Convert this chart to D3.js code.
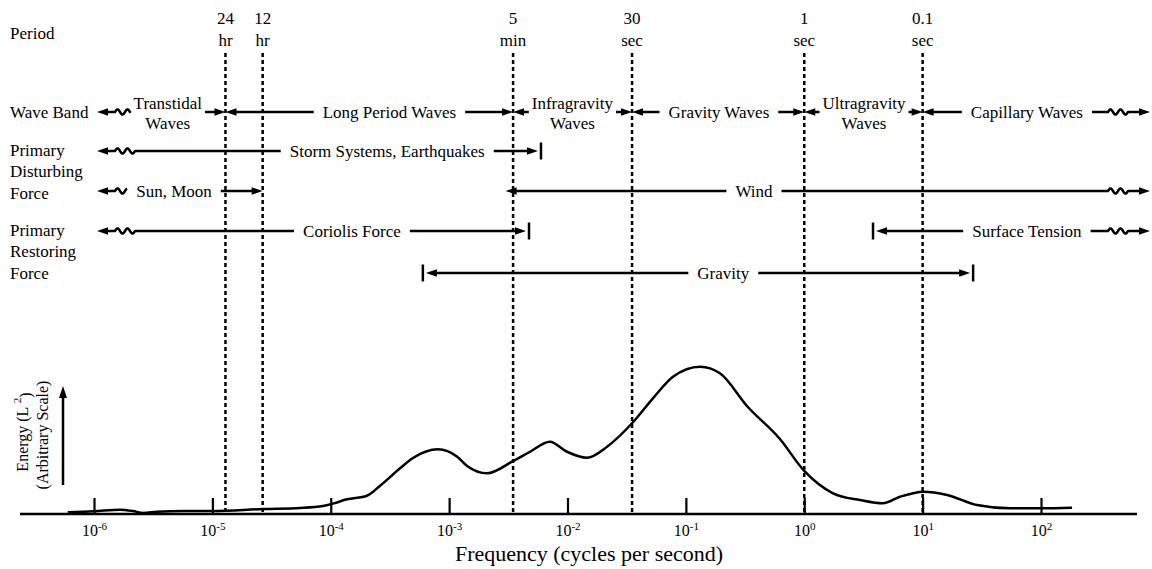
<!DOCTYPE html>
<html>
<head>
<meta charset="utf-8">
<script src="https://cdn.jsdelivr.net/npm/d3@7"></script>
<style>
  body { margin: 0; background: #fff; }
  svg { display: block; font-family: "Liberation Serif", "Times New Roman", serif; }
</style>
</head>
<body>
<svg id="chart" width="1152" height="569"></svg>
<script>
// ---- Period markers (dashed verticals) ----
const periodNames = [["24", "hr"], ["12", "hr"], ["5", "min"], ["30", "sec"], ["1", "sec"], ["0.1", "sec"]];
const periodFreqs = [1.29e-5, 2.66e-5, 3.47e-3, 3.51e-2, 1, 10];

// ---- Energy spectrum (frequency in Hz, energy in arbitrary units) ----
const specFreq = [6.0e-7, 1e-6, 1.66e-6, 2.13e-6, 2.6e-6, 3.4e-6, 5.65e-6, 1e-5, 2.67e-5, 5.5e-5,
  8.6e-5, 1.06e-4, 1.37e-4, 2.02e-4, 2.6e-4, 3.85e-4, 4.95e-4, 8.05e-4, 1.17e-3, 1.42e-3,
  2.09e-3, 3.47e-3, 4.83e-3, 7.1e-3, 9.9e-3, 1.46e-2, 2.16e-2, 3.51e-2, 5.27e-2, 7.78e-2,
  0.132, 0.194, 0.328, 0.623, 1.0, 1.75, 2.96, 4.62, 6.44, 10.2, 16.1, 28.8, 54.7, 100, 183];
const specEnergy = [1.1, 1.8, 2.9, 2.0, 0.7, 1.5, 2.0, 2.0, 3.3, 4.0,
  5.3, 7.1, 9.8, 12.2, 18.7, 30.5, 37.3, 43.1, 38.2, 32.0,
  27.1, 35.3, 41.5, 48.2, 41.5, 37.5, 44.9, 60.5, 77.1, 91.5,
  98.2, 93.8, 72.0, 50.0, 28.7, 13.8, 9.3, 7.1, 11.5, 14.9, 12.7, 6.0, 3.8, 3.8, 4.2];

// ---- Axis ticks ----
const tickFreqs = [1e-6, 1e-5, 1e-4, 1e-3, 1e-2, 1e-1, 1e0, 1e1, 1e2];
const tickExps = ["-6", "-5", "-4", "-3", "-2", "-1", "0", "1", "2"];

// ---- Band rows: lo/hi are frequency limits (null = open-ended), at = label anchor ----
const waveBandRow = [
  { label: ["Transtidal", "Waves"], lo: null, hi: 1.29e-5, at: 4.2e-6 },
  { label: ["Long Period Waves"], lo: 1.29e-5, hi: 3.47e-3, at: 3.13e-4 },
  { label: ["Infragravity", "Waves"], lo: 3.47e-3, hi: 3.51e-2, at: 1.1e-2 },
  { label: ["Gravity Waves"], lo: 3.51e-2, hi: 1, at: 0.19 },
  { label: ["Ultragravity", "Waves"], lo: 1, hi: 10, at: 3.2 },
  { label: ["Capillary Waves"], lo: 10, hi: null, at: 76 }
];
const stormRow = [
  { label: ["Storm Systems, Earthquakes"], lo: null, hi: 5.97e-3, at: 3.0e-4, hiEnd: "bar" }
];
const tideWindRow = [
  { label: ["Sun, Moon"], lo: null, hi: 2.66e-5, at: 4.74e-6 },
  { label: ["Wind"], lo: 3.0e-3, hi: null, at: 0.376 }
];
const coriolisRow = [
  { label: ["Coriolis Force"], lo: null, hi: 4.73e-3, at: 1.51e-4, hiEnd: "bar" },
  { label: ["Surface Tension"], lo: 3.81, hi: null, at: 76, loEnd: "bar" }
];
const gravityRow = [
  { label: ["Gravity"], lo: 6.0e-4, hi: 26.7, at: 0.207, loEnd: "bar", hiEnd: "bar" }
];

const rowTitles = [
  { lines: ["Period"], y: 33 },
  { lines: ["Wave Band"], y: 112 },
  { lines: ["Primary", "Disturbing", "Force"], y: 150 },
  { lines: ["Primary", "Restoring", "Force"], y: 230 }
];

// ---- Layout ----
const svg = d3.select("#chart");
const baseY = 514;
const x = d3.scaleLog().domain([1e-6, 1e2]).range([94, 1041]);
const y = d3.scaleLinear().domain([0, 100]).range([baseY, 364]);
const openLeft = 97, openRight = 1150;
const rowY = [112, 151, 191, 231, 273];
const rows = [waveBandRow, stormRow, tideWindRow, coriolisRow, gravityRow];
const LW = 2.5;

// Dashed period lines and their labels
const pg = svg.append("g");
periodFreqs.forEach((f, i) => {
  pg.append("line")
    .attr("x1", x(f)).attr("x2", x(f))
    .attr("y1", 53).attr("y2", baseY)
    .attr("stroke", "#000").attr("stroke-width", 2.5)
    .attr("stroke-dasharray", "4,3");
  pg.append("text").attr("x", x(f)).attr("y", 18).attr("dy", "0.35em")
    .attr("text-anchor", "middle").attr("font-size", 17).text(periodNames[i][0]);
  pg.append("text").attr("x", x(f)).attr("y", 40).attr("dy", "0.35em")
    .attr("text-anchor", "middle").attr("font-size", 17).text(periodNames[i][1]);
});

// Row titles on the left
rowTitles.forEach(t => {
  t.lines.forEach((s, j) => {
    svg.append("text").attr("x", 10).attr("y", t.y + j * 21.5).attr("dy", "0.35em")
      .attr("font-size", 17).text(s);
  });
});

// Drawing helpers
function arrowHead(g, tip, yy, dir) {
  // dir = -1 points left, +1 points right
  g.append("path")
    .attr("d", `M${tip},${yy} L${tip - dir * 11},${yy - 3.8} L${tip - dir * 11},${yy + 3.8} Z`)
    .attr("fill", "#000");
}
function bar(g, xx, yy) {
  g.append("line").attr("x1", xx).attr("x2", xx).attr("y1", yy - 8.5).attr("y2", yy + 8.5)
    .attr("stroke", "#000").attr("stroke-width", LW);
}
function wavePts(xs, xe, yy) {
  const pts = [];
  for (let t = xs; t <= xe; t += 0.5) {
    pts.push([t, yy - 2.6 * Math.sin(2 * Math.PI * (t - xs) / 10)]);
  }
  return pts;
}
const lineGen = d3.line();
function stroke(g, pts) {
  g.append("path").attr("d", lineGen(pts)).attr("fill", "none")
    .attr("stroke", "#000").attr("stroke-width", LW).attr("stroke-linejoin", "round");
}

// Left piece: from band start to just before the label
function leftPiece(g, band, xe, yy) {
  if (band.lo == null) {
    arrowHead(g, openLeft, yy, -1);
    const ws = 115, we = Math.min(xe, 135);
    stroke(g, [[openLeft + 8, yy], [ws, yy]].concat(wavePts(ws, we, yy)).concat(xe > we ? [[xe, yy]] : []));
  } else {
    const bx = x(band.lo);
    let tip = bx;
    if (band.loEnd === "bar") { bar(g, bx, yy); tip = bx + 3; }
    arrowHead(g, tip, yy, -1);
    stroke(g, [[tip + 8, yy], [xe, yy]]);
  }
}
// Right piece: from just after the label to band end
function rightPiece(g, band, xs, yy) {
  if (band.hi == null) {
    arrowHead(g, openRight, yy, 1);
    const ws = 1108, we = 1128;
    stroke(g, [[xs, yy], [ws, yy]].concat(wavePts(ws, we, yy)).concat([[openRight - 8, yy]]));
  } else {
    const bx = x(band.hi);
    let tip = bx;
    if (band.hiEnd === "bar") { bar(g, bx, yy); tip = bx - 3; }
    arrowHead(g, tip, yy, 1);
    stroke(g, [[xs, yy], [tip - 8, yy]]);
  }
}

// Band rows
rows.forEach((row, ri) => {
  const yy = rowY[ri];
  const g = svg.append("g");
  row.forEach(band => {
    const cx = x(band.at);
    const two = band.label.length > 1;
    let w = 0;
    band.label.forEach((s, j) => {
      const t = g.append("text").attr("x", cx)
        .attr("y", two ? yy - 9 + j * 20 : yy).attr("dy", "0.35em")
        .attr("text-anchor", "middle").attr("font-size", 17).text(s);
      w = Math.max(w, t.node().getComputedTextLength());
    });
    const gap = two ? 3 : 9;
    leftPiece(g, band, cx - w / 2 - gap, yy);
    rightPiece(g, band, cx + w / 2 + gap, yy);
  });
});

// Baseline
svg.append("line").attr("x1", 20).attr("x2", 1137).attr("y1", baseY).attr("y2", baseY)
  .attr("stroke", "#000").attr("stroke-width", 2.5);

// Frequency axis: ticks pointing up, labels as powers of ten
const axis = d3.axisBottom(x).tickValues(tickFreqs)
  .tickSizeInner(-16).tickSizeOuter(0).tickPadding(11).tickFormat(() => "");
const ag = svg.append("g").attr("transform", `translate(0,${baseY})`).call(axis);
ag.select(".domain").remove();
ag.selectAll(".tick line").attr("stroke", "#000").attr("stroke-width", 2.2);
ag.selectAll(".tick text").each(function (d, i) {
  const t = d3.select(this).attr("fill", "#000").attr("font-size", 16)
    .attr("font-family", "Liberation Serif, Times New Roman, serif");
  t.append("tspan").text("10");
  t.append("tspan").attr("font-size", 11).attr("dy", "-0.55em").text(tickExps[i]);
});

// Axis title
svg.append("text").attr("x", 589).attr("y", 561).attr("text-anchor", "middle")
  .attr("font-size", 22).text("Frequency (cycles per second)");

// Energy axis arrow and label
svg.append("line").attr("x1", 63).attr("x2", 63).attr("y1", 485).attr("y2", 396)
  .attr("stroke", "#000").attr("stroke-width", 2.5);
svg.append("path").attr("d", "M63,386 L59,398 L67,398 Z").attr("fill", "#000");
const el1 = svg.append("text").attr("transform", "translate(28,432) rotate(-90)")
  .attr("text-anchor", "middle").attr("font-size", 16);
el1.append("tspan").text("Energy (L ");
el1.append("tspan").attr("font-size", 11).attr("dy", "-0.6em").text("2");
el1.append("tspan").attr("dy", "0.6em").text(")");
svg.append("text").attr("transform", "translate(48,435) rotate(-90)")
  .attr("text-anchor", "middle").attr("font-size", 16).text("(Arbitrary Scale)");

// Energy spectrum curve
const spectrum = specFreq.map((f, i) => ({ f, e: specEnergy[i] }));
svg.append("path").datum(spectrum)
  .attr("d", d3.line().x(d => x(d.f)).y(d => y(d.e)).curve(d3.curveMonotoneX))
  .attr("fill", "none").attr("stroke", "#000").attr("stroke-width", 2.5);
</script>
</body>
</html>
